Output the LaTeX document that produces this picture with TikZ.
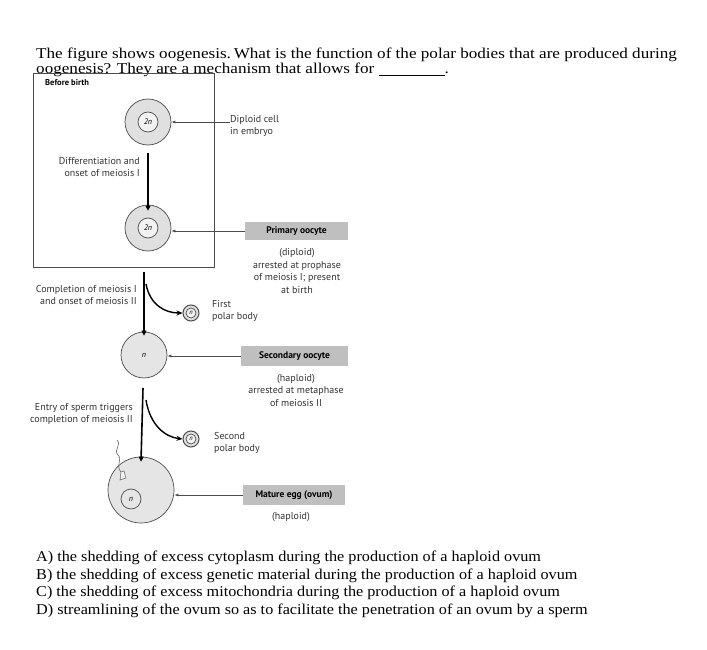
\documentclass[tikz,border=0pt]{standalone}
\usepackage{fontspec}
\setmainfont{Liberation Serif}
\newfontfamily\dsans{PT Sans}
\usetikzlibrary{arrows.meta}
\begin{document}
\begin{tikzpicture}[x=1pt,y=-1pt,
  q/.style={anchor=west,inner sep=0pt,font=\fontsize{15}{16}\selectfont,xscale=1.14,transform shape},
  qa/.style={anchor=west,inner sep=0pt,font=\fontsize{15}{16}\selectfont,xscale=1.08,transform shape},
  lab/.style={inner sep=0pt,font=\dsans\fontsize{10}{12.5}\selectfont,text=black!80,align=center},
  labr/.style={lab,align=right,anchor=east},
  labl/.style={lab,align=left,anchor=west},
  cell/.style={circle,draw=black!70,fill=black!12,line width=0.7pt},
  nuc/.style={circle,draw=black!70,fill=black!5,line width=0.7pt,font=\dsans\fontsize{8}{9}\selectfont\itshape,inner sep=0pt},
  gbox/.style={fill=black!25,font=\dsans\bfseries\fontsize{9.5}{10}\selectfont,inner sep=0pt},
  ptr/.style={-{Latex[length=4pt,width=3pt]},black!70,line width=0.6pt},
  big/.style={-{Triangle[length=5pt,width=5pt]},line width=1.6pt},
  curv/.style={-{Stealth[length=6pt,width=5pt]},line width=1.4pt}]
\useasboundingbox[fill=white] (0,0) rectangle (707,650);
\node[q] (q1) at (36,55) {The figure shows oogenesis.\,What is the function of the polar bodies that are produced during};
\node[q] (q2) at (36,70) {oogenesis? They are a mechanism that allows for \underline{\hspace{58pt}}.};
\draw[black!70,line width=0.8pt] (33,73) rectangle (214,267);
\node[anchor=west,font=\dsans\bfseries\fontsize{8.5}{9}\selectfont,inner sep=0pt] (bb) at (45,83) {Before birth};
% cell 1
\node[cell,minimum size=46pt] (c1) at (148,122) {};
\node[nuc,minimum size=20pt] (n1) at (c1) {2n};
\node[labl] (t1) at (230,126) {Diploid cell\\in embryo};
\draw[ptr] (t1.west) ++(0,-4) coordinate (p1) -- (c1.east|-p1);
\node[labr] (t2) at (140,167) {Differentiation and\\onset of meiosis I};
% cell 2
\node[cell,minimum size=46pt] (c2) at (148,228) {};
\node[nuc,minimum size=20pt] (n2) at (c2) {2n};
\draw[big] (c1.south) ++(0,8) -- ([yshift=-6pt]c2.north);
\node[gbox,minimum width=103pt,minimum height=18pt] (b1) at (296.5,231) {Primary oocyte};
\draw[ptr] (b1.west) -- (c2.east|-b1.west);
\node[lab] (t3) at (297,271) {(diploid)\\arrested at prophase\\of meiosis I; present\\at birth};
% cell 3
\node[cell,fill=black!10,minimum size=46pt,font=\dsans\fontsize{8}{9}\selectfont\itshape] (c3) at (144,355) {n};
\node[cell,minimum size=16pt,line width=1pt] (pb1) at (191,313) {};
\node[nuc,minimum size=10pt,font=\dsans\fontsize{6.5}{7}\selectfont\itshape] (pn1) at (pb1) {n};
\draw[big] (144,272) coordinate (a1) -- ([yshift=-4pt]c3.north);
\draw[curv] (146,284) .. controls (150,305) and (165,313) .. (pb1.west);
\node[labr] (t4) at (137,295) {Completion of meiosis I\\and onset of meiosis II};
\node[labl] (t5) at (212,311) {First\\polar body};
\node[gbox,minimum width=107pt,minimum height=20pt] (b2) at (294.5,356) {Secondary oocyte};
\draw[ptr] (b2.west) -- (c3.east|-b2.west);
\node[lab] (t6) at (296,390) {(haploid)\\arrested at metaphase\\of meiosis II};
% egg
\node[cell,fill=black!10,minimum size=66pt] (c4) at (141,490) {};
\node[nuc,minimum size=20pt,fill=black!10] (n4) at (131,499) {n};
\node[cell,minimum size=16pt,line width=1pt] (pb2) at (191,439) {};
\node[nuc,minimum size=10pt,font=\dsans\fontsize{6.5}{7}\selectfont\itshape] (pn2) at (pb2) {n};
\draw[big] (143,388) -- ([yshift=-5pt]c4.north);
\draw[curv] (146,400) .. controls (150,425) and (165,437) .. (pb2.west);
\node[labr] (t7) at (133,414) {Entry of sperm triggers\\completion of meiosis II};
\node[labl] (t8) at (214,443) {Second\\polar body};
% sperm
\draw[black!60,line width=0.6pt] (117,440) .. controls (122,445) and (113,450) .. (118,455) .. controls (123,460) and (115,465) .. (121,472);
\draw[black!60,fill=black!5,line width=0.5pt] (121,472) -- (124,471) -- (126,478) -- (120,480) -- cycle;
\node[gbox,minimum width=102pt,minimum height=20pt] (b3) at (294,495) {Mature egg (ovum)};
\draw[ptr] (b3.west) -- (c4.east|-b3.west);
\node[lab] (t9) at (291,517) {(haploid)};
% answers
\node[qa] (a) at (36,558) {A) the shedding of excess cytoplasm during the production of a haploid ovum};
\node[qa] (b) at (36,576) {B) the shedding of excess genetic material during the production of a haploid ovum};
\node[qa] (c) at (36,593) {C) the shedding of excess mitochondria during the production of a haploid ovum};
\node[qa] (d) at (36,611) {D) streamlining of the ovum so as to facilitate the penetration of an ovum by a sperm};
\end{tikzpicture}
\end{document}
